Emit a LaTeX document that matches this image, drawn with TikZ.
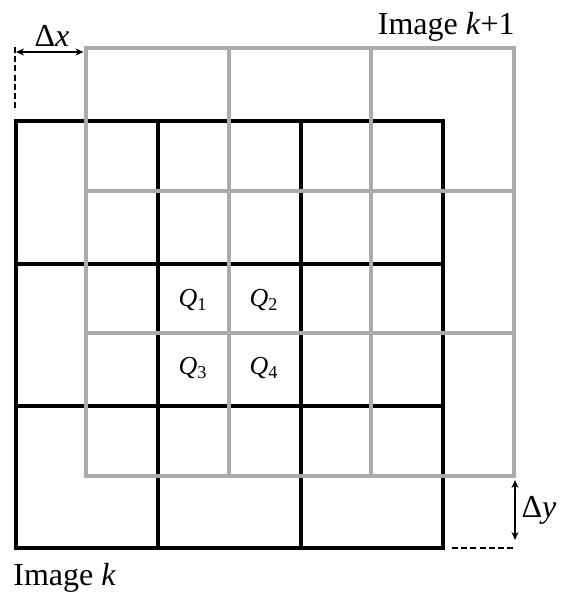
\documentclass[tikz,border=0pt]{standalone}
\usepackage{fontspec}
\setmainfont{Liberation Serif}
\usetikzlibrary{arrows.meta}

\begin{document}
\begin{tikzpicture}[
  x=0.5pt,y=-0.5pt,
  oldgrid/.style={line width=2pt,draw=black},
  newgrid/.style={line width=2pt,draw=black!33},
  shiftarrow/.style={{Stealth[length=4pt,width=3.5pt]}-{Stealth[length=4pt,width=3.5pt]},line width=0.6pt},
  guide/.style={line width=0.6pt,dash pattern=on 3pt off 1.6pt},
  caption/.style={font=\fontsize{16}{19}\selectfont,inner sep=0pt},
  quad/.style={font=\fontsize{13}{15}\selectfont,inner sep=0pt}
]
\useasboundingbox (0,0) rectangle (561,595);
\draw[oldgrid] (15.5,121) rectangle (443,548);
\foreach \i in {1,2} {
  \draw[oldgrid] (15.5+142.5*\i,121) -- (15.5+142.5*\i,548);
  \draw[oldgrid] (15.5,121+142.5*\i) -- (443,121+142.5*\i);
}
\draw[newgrid] (86,48) rectangle (513.5,476);
\foreach \i in {1,2} {
  \draw[newgrid] (86+142.5*\i,48) -- (86+142.5*\i,476);
  \draw[newgrid] (86,48+142.6*\i) -- (513.5,48+142.6*\i);
}
\node[quad] (q1) at (193,300) {\textit{Q}\textsubscript{1}};
\node[quad] (q2) at (264,300) {\textit{Q}\textsubscript{2}};
\node[quad] (q3) at (193,368) {\textit{Q}\textsubscript{3}};
\node[quad] (q4) at (264,368) {\textit{Q}\textsubscript{4}};
\node[caption,anchor=base east] (next) at (515,34) {Image \textit{k}+1};
\node[caption,anchor=base west] (cur) at (13,585) {Image \textit{k}};
\coordinate (dxtop) at (15,47);
\coordinate (dxbot) at (15,110);
\coordinate (dxa) at (16,52);
\coordinate (dxb) at (83.5,52);
\node[caption] (dx) at (52,36) {Δ\textit{x}};
\coordinate (dyleft) at (452,548);
\coordinate (dyright) at (516,548);
\coordinate (dya) at (515,480);
\coordinate (dyb) at (515,540);
\node[caption] (dy) at (539,510) {Δ\textit{y}};
\draw[guide] (dxtop) -- (dxbot);
\draw[shiftarrow] (dxa) -- (dxb);
\draw[guide] (dyleft) -- (dyright);
\draw[shiftarrow] (dya) -- (dyb);
\end{tikzpicture}
\end{document}
